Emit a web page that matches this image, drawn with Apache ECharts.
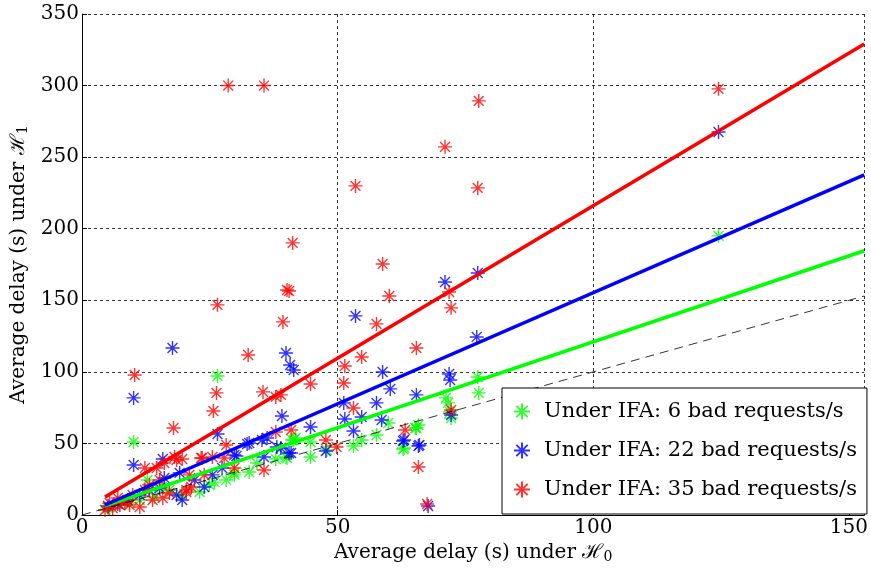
<!DOCTYPE html>
<html><head><meta charset="utf-8">
<script src="https://cdn.jsdelivr.net/npm/echarts@6/dist/echarts.min.js"></script>
<style>html,body{margin:0;padding:0;background:#fff}#c{width:871px;height:575px}</style>
</head><body><div id="c"></div>
<script>
// ---- data ----
var seriesNames = ['Under IFA: 6 bad requests/s','Under IFA: 22 bad requests/s','Under IFA: 35 bad requests/s'];
var xTicks = [0, 50, 100, 150];
var yTicks = [0, 50, 100, 150, 200, 250, 300, 350];

var greenPts = [
 [124.5,195.0],[26.5,97.1],[10.1,51.0],[77.4,96.4],[77.6,85.3],[71.2,81.8],[71.6,78.3],[72.2,67.8],
 [65.8,62.9],[65.2,60.8],[63.0,46.8],[59.9,64.3],[65.4,60.8],[41.4,52.4],[44.7,51.0],[44.7,40.5],
 [47.9,45.4],[53.1,48.2],[54.7,52.4],[57.6,55.9],[62.8,46.1],[29.8,29.4],[32.7,30.0],[37.9,39.1],
 [40.1,39.8],[12.8,24.5],[5.0,5.0],[15.6,19.6],[23.0,16.1],[19.5,14.0],[34.2,36.3],[28.2,24.5],
 [41.1,52.4],[39.9,40.5],[41.8,53.8],[5.4,5.6],[7.4,7.0],[9.3,8.4],[11.3,10.5],[14.2,12.6],
 [17.1,17.5],[24.9,21.0],[25.9,23.0],[29.8,28.0],[72.0,72.0]
];
var bluePts = [
 [124.5,267.6],[153.1,228.5],[77.4,169.1],[71.0,162.8],[53.5,139.1],[77.2,124.4],[39.9,113.2],
 [40.7,104.8],[41.4,101.3],[58.8,99.9],[71.8,98.5],[72.0,94.3],[17.7,116.7],[10.1,81.8],[10.1,34.9],
 [60.3,88.1],[51.2,78.3],[57.6,78.3],[65.4,83.9],[39.1,69.2],[44.7,61.5],[51.4,67.1],[54.7,68.5],
 [53.1,58.7],[58.6,66.4],[32.7,50.3],[35.2,52.4],[38.1,47.5],[40.9,43.3],[47.7,44.7],[62.8,51.7],
 [65.8,48.2],[63.0,52.4],[66.0,48.9],[72.2,69.9],[67.7,6.3],[26.5,56.6],[32.3,49.6],[36.2,53.8],
 [15.8,39.1],[30.2,41.2],[35.6,40.5],[19.1,29.4],[18.5,14.0],[19.6,10.5],[27.4,32.8],[23.9,19.6],
 [25.5,28.0],[29.8,41.9],[38.9,46.8],[40.5,43.3],[5.1,6.3],[7.0,7.7],[8.9,10.5],[11.3,14.0],
 [13.2,17.5],[15.2,18.9],[16.1,25.9],[22.0,24.5]
];
var redPts = [
 [28.6,300.0],[35.6,300.0],[124.5,297.7],[77.6,289.3],[71.0,257.2],[53.5,229.9],[77.4,228.5],
 [153.1,243.9],[41.2,190.1],[58.8,175.4],[60.1,153.0],[40.1,157.2],[40.5,156.5],[72.2,144.7],
 [71.8,155.8],[39.3,134.9],[26.5,146.8],[57.6,133.5],[32.5,111.8],[10.3,97.8],[65.4,116.7],
 [54.7,110.4],[51.4,104.1],[51.2,92.2],[44.7,91.5],[35.4,86.0],[26.3,85.3],[25.7,72.7],[17.9,60.8],
 [53.1,74.8],[37.9,82.5],[38.9,83.9],[37.9,58.0],[40.9,59.4],[47.7,52.4],[49.8,47.5],[63.2,59.4],
 [65.8,33.5],[72.2,73.4],[67.5,7.7],[35.6,31.4],[29.8,32.8],[28.2,48.9],[18.1,40.5],[19.6,39.1],
 [23.5,39.8],[25.5,40.5],[27.8,39.8],[12.3,32.8],[14.6,32.8],[16.1,36.3],[18.5,38.4],[9.9,14.0],
 [8.4,9.1],[6.0,4.9],[4.5,3.5],[11.3,5.6],[13.8,10.5],[15.8,11.9],[17.1,15.4],[20.4,16.1],
 [23.3,39.8],[21.4,19.6],[21.0,28.0],[23.9,28.0],[20.4,17.5],[7.4,7.0],[9.3,7.0],[7.0,11.9],
 [5.4,8.4],[12.3,17.5],[15.2,24.5],[13.2,21.0]
];
var fitX = [4.5, 153];
var greenFitY = [6.4, 184.6];
var blueFitY = [7.0, 237.6];
var redFitY = [12.6, 329.0];
var refX = [0, 153];
var refY = [0, 153];

// ---- chart ----
var FONT = 'DejaVu Serif';
var FS = 20;
var GREEN = '#00ff00', BLUE = '#0000ff', RED = '#ff0000';
var STAR = 'path://M0,-10L0,10M-10,0L10,0M-7.07,-7.07L7.07,7.07M-7.07,7.07L7.07,-7.07';
function pairs(xs, ys){ return xs.map(function(x,i){ return [x, ys[i]]; }); }
function scat(name, data, col){
  return { name: name, type: 'scatter', data: data, symbol: STAR, symbolSize: 14,
    itemStyle: { color: 'rgba(0,0,0,0)', borderColor: col, borderWidth: 1.4 }, silent: true };
}
function fit(data, col){
  return { type: 'line', data: data, showSymbol: false, symbol: 'none',
    lineStyle: { color: col, width: 3.5 }, silent: true };
}
var chart = echarts.init(document.getElementById('c'), null, { renderer: 'canvas' });
chart.setOption({
  animation: false,
  backgroundColor: '#fff',
  grid: { left: 82, right: 2, top: 14, bottom: 60, containLabel: false },
  xAxis: [{
    type: 'value', min: 0, max: 153, interval: 50,
    name: 'Average delay (s) under ℋ{sub|0}', nameLocation: 'middle', nameGap: 24,
    nameTextStyle: { fontFamily: FONT, fontSize: FS, color: '#000',
      rich: { sub: { fontFamily: FONT, fontSize: 14, color: '#000', verticalAlign: 'bottom', padding: [8,0,0,0] } } },
    axisLine: { show: true, lineStyle: { color: '#000', width: 1 } },
    axisTick: { show: true, inside: true, length: 5, lineStyle: { color: '#000' } },
    axisLabel: { fontFamily: FONT, fontSize: FS, color: '#000', margin: 3 },
    splitLine: { show: true, lineStyle: { color: ['#000', '#000', '#000', 'rgba(0,0,0,0)'], type: [3, 3], width: 0.8 } }
  }],
  yAxis: [{
    type: 'value', min: 0, max: 350, interval: 50,
    name: 'Average delay (s) under ℋ{sub|1}', nameLocation: 'middle', nameGap: 49,
    nameTextStyle: { fontFamily: FONT, fontSize: FS, color: '#000',
      rich: { sub: { fontFamily: FONT, fontSize: 14, color: '#000', padding: [8,0,0,0] } } },
    axisLine: { show: true, lineStyle: { color: '#000', width: 1 } },
    axisTick: { show: true, inside: true, length: 5, lineStyle: { color: '#000' } },
    axisLabel: { fontFamily: FONT, fontSize: FS, color: '#000', margin: 3 },
    splitLine: { show: true, lineStyle: { color: '#000', type: [3, 3], width: 0.8 } }
  }],
  legend: {
    orient: 'vertical', left: 502, top: 388,
    padding: [13, 10, 14, 11], itemGap: 18, itemWidth: 16, itemHeight: 16,
    backgroundColor: '#fff', borderColor: '#000', borderWidth: 1,
    textStyle: { fontFamily: FONT, fontSize: 21, color: '#000', padding: [0, 0, 0, 9] },
    data: seriesNames
  },
  series: [
    { type: 'line', data: pairs(refX, refY), showSymbol: false, symbol: 'none', silent: true,
      lineStyle: { color: '#000', width: 0.8, type: [9, 6] } },
    scat(seriesNames[0], greenPts, GREEN),
    fit(pairs(fitX, greenFitY), GREEN),
    scat(seriesNames[1], bluePts, BLUE),
    fit(pairs(fitX, blueFitY), BLUE),
    scat(seriesNames[2], redPts, RED),
    fit(pairs(fitX, redFitY), RED)
  ]
});
</script></body></html>
